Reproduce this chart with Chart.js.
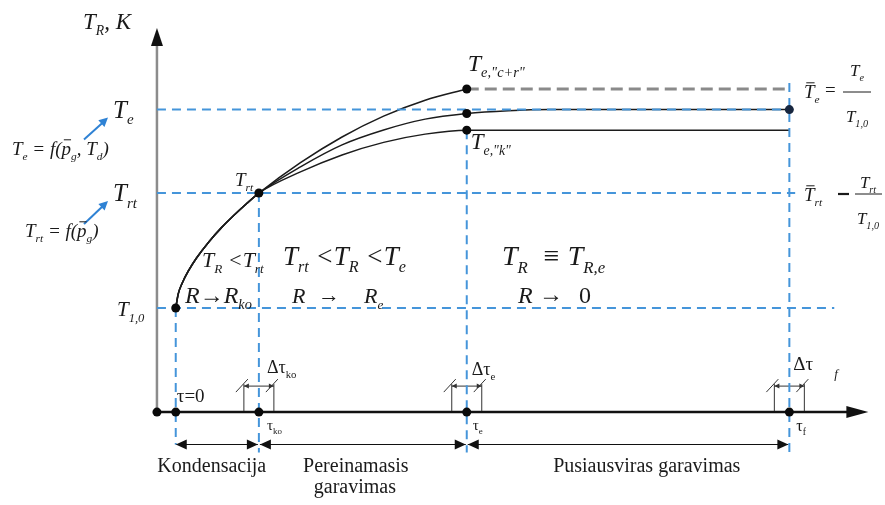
<!DOCTYPE html>
<html>
<head>
<meta charset="utf-8">
<script src="https://cdn.jsdelivr.net/npm/chart.js@4.4.1/dist/chart.umd.min.js"></script>
<style>
  html, body { margin: 0; background: #fff; }
  canvas { display: block; }
</style>
</head>
<body>
<canvas id="chart" width="885" height="505"></canvas>
<script>
// time marks, 1 unit = length of the condensation stage: τ=0, τko, τe, τf
const tauMarks = [0, 1, 3.5, 7.38];

// reduced temperature levels T / T1,0
const T10 = 1.0;
const Trt = 2.104;
const Te = 2.906;

// condensation stage, shared by all three regimes
const condTau = [0, 0.03, 0.08, 0.15, 0.25, 0.4, 0.55, 0.7, 0.85, 1.0];
const condT   = [1.0, 1.135, 1.243, 1.353, 1.48, 1.637, 1.772, 1.891, 2.001, 2.104];

// transitional evaporation, τko .. τe
const transTau  = [1.0, 1.5, 2.0, 2.5, 3.0, 3.5];
const transTopT = [2.104, 2.396, 2.643, 2.843, 2.996, 3.104];   // "c+r"
const transMidT = [2.104, 2.356, 2.567, 2.71, 2.814, 2.868];
const transLowT = [2.104, 2.307, 2.47, 2.591, 2.67, 2.708];     // "k"

// equilibrium evaporation, τe .. τf
const eqTau  = [3.5, 4.0, 4.5, 7.38];
const eqTopT = [3.104, 3.104, 3.104, 3.104];
const eqMidT = [2.868, 2.895, 2.906, 2.906];
const eqLowT = [2.708, 2.708, 2.708, 2.708];

const SERIF = '"Liberation Serif", "DejaVu Serif", serif';
const BLUE = '#4595da';
const axisTau = -0.226;     // where the T axis crosses the time axis
const dimT = -0.311;        // level of the stage dimension arrows

const pts = (xs, ys) => xs.map((v, i) => ({ x: v, y: ys[i] }));
const curve = (tr, eq) => pts(condTau, condT)
  .concat(pts(transTau.slice(1), tr.slice(1)))
  .concat(pts(eqTau.slice(1), eq.slice(1)));

function blueLine(a, b) {
  return {
    data: [a, b], borderColor: BLUE, borderWidth: 2, borderDash: [9, 6],
    pointRadius: 0, showLine: true, order: 1
  };
}

// --- small rich-text helper: _{..} subscript, ~{..} overbar ---
function parse(src) {
  const out = [];
  let i = 0, buf = '';
  while (i < src.length) {
    const c = src[i];
    if ((c === '_' || c === '~') && src[i + 1] === '{') {
      if (buf) { out.push({ t: buf, k: 'n' }); buf = ''; }
      const j = src.indexOf('}', i);
      out.push({ t: src.slice(i + 2, j), k: c === '_' ? 's' : 'b' });
      i = j + 1;
    } else { buf += c; i++; }
  }
  if (buf) out.push({ t: buf, k: 'n' });
  return out;
}

function rich(ctx, x, y, src, size, opt = {}) {
  const segs = parse(src);
  const style = opt.upright ? '' : 'italic ';
  const font = s => style + s + 'px ' + SERIF;
  let w = 0;
  segs.forEach(s => {
    ctx.font = font(s.k === 's' ? size * 0.6 : size);
    s.w = ctx.measureText(s.t).width;
    w += s.w;
  });
  let cx = opt.center ? x - w / 2 : x;
  ctx.textAlign = 'left';
  ctx.textBaseline = 'alphabetic';
  ctx.fillStyle = '#1a1a1a';
  segs.forEach(s => {
    const sub = s.k === 's';
    ctx.font = font(sub ? size * 0.6 : size);
    ctx.fillText(s.t, cx, y + (sub ? size * 0.27 : 0));
    if (s.k === 'b') {
      ctx.strokeStyle = '#1a1a1a';
      ctx.lineWidth = 1;
      ctx.beginPath();
      ctx.moveTo(cx + size * 0.12, y - size * 0.8);
      ctx.lineTo(cx + s.w, y - size * 0.8);
      ctx.stroke();
    }
    cx += s.w;
  });
  return w;
}

function line(ctx, x1, y1, x2, y2) {
  ctx.beginPath(); ctx.moveTo(x1, y1); ctx.lineTo(x2, y2); ctx.stroke();
}

function head(ctx, tx, ty, dx, dy, len, half) {
  // filled arrow head with tip at (tx,ty) pointing along (dx,dy)
  const n = Math.hypot(dx, dy), ux = dx / n, uy = dy / n;
  const bx = tx - ux * len, by = ty - uy * len;
  ctx.beginPath();
  ctx.moveTo(tx, ty);
  ctx.lineTo(bx - uy * half, by + ux * half);
  ctx.lineTo(bx + uy * half, by - ux * half);
  ctx.closePath();
  ctx.fill();
}

const sketch = {
  id: 'sketch',
  beforeDatasetsDraw(chart) {
    const { ctx, scales: { x, y } } = chart;
    const X = v => x.getPixelForValue(v), Y = v => y.getPixelForValue(v);
    ctx.save();

    // temperature axis
    ctx.strokeStyle = '#8c8c8c';
    ctx.lineWidth = 2.5;
    line(ctx, X(axisTau), Y(0), X(axisTau), Y(3.52));
    ctx.fillStyle = '#111';
    head(ctx, X(axisTau), Y(3.69), 0, -1, 18, 6);

    // time axis
    ctx.strokeStyle = '#111';
    ctx.lineWidth = 2.5;
    line(ctx, X(-0.274), Y(0), X(8.1), Y(0));
    head(ctx, X(8.33), Y(0), 1, 0, 22, 6);

    // stage dimension arrows
    ctx.lineWidth = 1.2;
    const dy = Y(dimT);
    for (let i = 0; i < 3; i++) {
      const a = X(tauMarks[i]) + (i ? 1 : 0), b = X(tauMarks[i + 1]) - 1;
      line(ctx, a, dy, b, dy);
      head(ctx, a, dy, -1, 0, 11, 5);
      head(ctx, b, dy, 1, 0, 11, 5);
    }

    // Δτ windows around τko, τe, τf
    ctx.strokeStyle = '#333';
    ctx.fillStyle = '#333';
    ctx.lineWidth = 1;
    const ax = Y(0);
    tauMarks.slice(1).forEach(t => {
      const c = X(t), a = c - 15, b = c + 15;
      line(ctx, a, ax - 28, a, ax - 1);
      line(ctx, b, ax - 28, b, ax - 1);
      line(ctx, a - 8, ax - 20, a + 4, ax - 33);
      line(ctx, b - 8, ax - 20, b + 4, ax - 33);
      line(ctx, a, ax - 26, b, ax - 26);
      head(ctx, a, ax - 26, -1, 0, 5, 2.5);
      head(ctx, b, ax - 26, 1, 0, 5, 2.5);
    });

    // blue pointers from the formulas to the levels
    ctx.strokeStyle = '#2f82d4';
    ctx.fillStyle = '#2f82d4';
    ctx.lineWidth = 2;
    [[Te, 22], [Trt, 23]].forEach(([lv, off]) => {
      const ty = Y(lv) + 8, tx = 108;
      line(ctx, tx - 24, ty + off, tx - 4, ty + 4);
      head(ctx, tx, ty, 24, -off, 9, 4.5);
    });
    ctx.restore();
  },

  afterDatasetsDraw(chart) {
    const { ctx, scales: { x, y } } = chart;
    const X = v => x.getPixelForValue(v), Y = v => y.getPixelForValue(v);
    ctx.save();

    // axis title and level labels
    rich(ctx, 83, 29, 'T_{R}, K', 23);
    rich(ctx, 113, Y(Te) + 8, 'T_{e}', 25);
    rich(ctx, 113, Y(Trt) + 8, 'T_{rt}', 25);
    rich(ctx, 117, Y(T10) + 8, 'T_{1,0}', 21);
    rich(ctx, 12, 155, 'T_{e} = f(~{p}_{g}, T_{d})', 19);
    rich(ctx, 25, 237, 'T_{rt} = f(~{p}_{g})', 19);

    // point labels
    rich(ctx, X(1) - 24, Y(Trt) - 7, 'T_{rt}', 19);
    rich(ctx, X(3.5) + 1, Y(eqTopT[0]) - 18, 'T_{e,"c+r"}', 24);
    rich(ctx, X(3.5) + 4, Y(eqLowT[0]) + 19, 'T_{e,"k"}', 23);

    // stage conditions
    rich(ctx, 202, 267, 'T_{R} <T_{rt}', 22);
    rich(ctx, 185, 303, 'R→R_{ko}', 24);
    rich(ctx, 283, 265, 'T_{rt} <T_{R} <T_{e}', 27);
    rich(ctx, 292, 303, 'R', 22);
    rich(ctx, 318, 302, '→', 22, { upright: true });
    rich(ctx, 364, 303, 'R_{e}', 22);
    rich(ctx, 502, 265, 'T_{R}  ≡ T_{R,e}', 28);
    rich(ctx, 518, 303, 'R', 24);
    rich(ctx, 539, 302, '→', 24, { upright: true });
    rich(ctx, 579, 303, '0', 24, { upright: true });

    // reduced temperatures on the right
    ctx.strokeStyle = '#1a1a1a';
    ctx.lineWidth = 1;
    rich(ctx, 804, 98, '~{T}_{e}', 19);
    rich(ctx, 825, 96, '=', 19, { upright: true });
    rich(ctx, 857, 76, 'T_{e}', 17, { center: true });
    line(ctx, 843, 92, 871, 92);
    rich(ctx, 857, 122, 'T_{1,0}', 17, { center: true });

    rich(ctx, 804, 201, '~{T}_{rt}', 19);
    ctx.lineWidth = 2.2;
    line(ctx, 838, 194, 849, 194);
    rich(ctx, 868, 188, 'T_{rt}', 17, { center: true });
    ctx.lineWidth = 1;
    line(ctx, 855, 194, 882, 194);
    rich(ctx, 868, 224, 'T_{1,0}', 17, { center: true });

    // time marks
    const ax = Y(0);
    rich(ctx, X(0) + 1, ax - 10, 'τ=0', 19, { upright: true });
    rich(ctx, X(1) + 8, ax - 39, 'Δτ_{ko}', 18, { upright: true });
    rich(ctx, X(3.5) + 5, ax - 37, 'Δτ_{e}', 18, { upright: true });
    rich(ctx, X(7.38) + 4, ax - 42, 'Δτ', 19, { upright: true });
    rich(ctx, X(7.38) + 45, ax - 34, 'f', 13);
    rich(ctx, X(1) + 8, ax + 18, 'τ_{ko}', 15, { upright: true });
    rich(ctx, X(3.5) + 6, ax + 18, 'τ_{e}', 15, { upright: true });
    rich(ctx, X(7.38) + 7, ax + 19, 'τ_{f}', 16, { upright: true });

    // stage names
    const by = Y(dimT) + 28;
    rich(ctx, X(0) + 36, by, 'Kondensacija', 20, { upright: true, center: true });
    rich(ctx, X(1) + 97, by, 'Pereinamasis', 20, { upright: true, center: true });
    rich(ctx, X(1) + 96, by + 21, 'garavimas', 20, { upright: true, center: true });
    rich(ctx, X(3.5) + 180, by, 'Pusiausviras garavimas', 20, { upright: true, center: true });
    ctx.restore();
  }
};

const solid = (data, w) => ({
  data, borderColor: '#1c1c1c', borderWidth: w, pointRadius: 0,
  showLine: true, cubicInterpolationMode: 'monotone', order: 2
});

new Chart(document.getElementById('chart'), {
  type: 'scatter',
  data: {
    datasets: [
      // marked points
      {
        data: [
          { x: axisTau, y: 0 },
          ...tauMarks.map(t => ({ x: t, y: 0 })),
          { x: condTau[0], y: condT[0] },
          { x: transTau[0], y: transTopT[0] },
          { x: eqTau[0], y: eqTopT[0] },
          { x: eqTau[0], y: eqMidT[0] },
          { x: eqTau[0], y: eqLowT[0] }
        ],
        backgroundColor: '#0a0a0a', borderWidth: 0, pointRadius: 4.5, order: 0
      },
      {
        data: [{ x: tauMarks[3], y: Te }],
        backgroundColor: '#17263f', borderWidth: 0, pointRadius: 4.5, order: 0
      },
      // temperature histories
      solid(curve(transTopT, eqTopT).filter(p => p.x <= 3.5), 1.6),
      solid(curve(transMidT, eqMidT), 1.5),
      solid(curve(transLowT, eqLowT), 1.5),
      {
        data: pts(eqTau, eqTopT), borderColor: '#8a8a8a', borderWidth: 3,
        borderDash: [12, 6], pointRadius: 0, showLine: true, order: 2
      },
      // guide lines
      blueLine({ x: axisTau, y: Te }, { x: tauMarks[3], y: Te }),
      blueLine({ x: axisTau, y: Trt }, { x: 7.45, y: Trt }),
      blueLine({ x: axisTau, y: T10 }, { x: 7.92, y: T10 }),
      blueLine({ x: tauMarks[0], y: T10 }, { x: tauMarks[0], y: dimT }),
      blueLine({ x: tauMarks[1], y: Trt }, { x: tauMarks[1], y: -0.387 }),
      blueLine({ x: tauMarks[2], y: eqLowT[0] }, { x: tauMarks[2], y: -0.387 }),
      blueLine({ x: tauMarks[3], y: 3.16 }, { x: tauMarks[3], y: -0.387 })
    ]
  },
  options: {
    responsive: false,
    animation: false,
    devicePixelRatio: 1,
    layout: { padding: 0 },
    plugins: { legend: { display: false }, tooltip: { enabled: false } },
    scales: {
      x: { type: 'linear', display: false, min: -173 / 84, max: 712 / 84 },
      y: { type: 'linear', display: false, min: -90 / 106, max: 415 / 106 }
    }
  },
  plugins: [sketch]
});
</script>
</body>
</html>
